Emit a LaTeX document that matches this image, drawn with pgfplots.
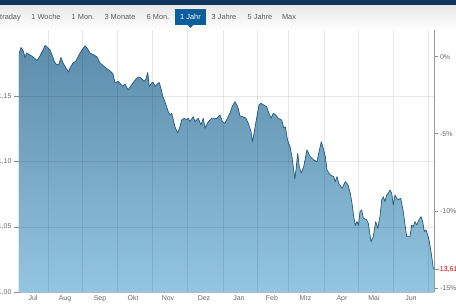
\documentclass[border=0pt]{standalone}
\usepackage{pgfplots}
\usepackage{pgfplotstable}
\pgfplotsset{compat=1.18}
\usepackage{fontspec}
\setmainfont{Liberation Sans}
\definecolor{navy}{HTML}{0E355E}
\definecolor{tabblue}{HTML}{0B5E9C}
\definecolor{tabtext}{HTML}{5A5A5A}
\definecolor{ticktext}{HTML}{6A6A6A}
\definecolor{lineblue}{HTML}{2A5C7C}
\definecolor{filltop}{HTML}{5C8DAC}
\definecolor{fillbot}{HTML}{93C6E0}
\pgfplotstableread{
x y
19 1.1825
21 1.1874
23.5 1.1844
25 1.1794
26.5 1.1832
30 1.1817
33 1.1802
37 1.1775
40 1.1809
43 1.1855
45 1.1890
47 1.1878
50 1.1855
52 1.1817
54.5 1.1763
57 1.1740
59 1.1748
61 1.1798
63 1.1756
66 1.1717
68.5 1.1687
70 1.1717
73 1.1756
76 1.1771
79 1.1817
82 1.1855
85 1.1886
87 1.1871
90 1.1832
94 1.1817
97 1.1802
100 1.1756
104 1.1729
107 1.1710
110 1.1695
113 1.1672
115 1.1603
118 1.1614
120.5 1.1595
122.5 1.1576
125 1.1595
128 1.1549
130.5 1.1576
133 1.1603
136.5 1.1637
139 1.1649
141.5 1.1637
144 1.1614
146 1.1633
147.7 1.1683
149.3 1.1576
151.7 1.1603
153.3 1.1606
155 1.1576
157.3 1.1595
159.3 1.1606
161 1.1557
163 1.1495
165 1.1457
166.7 1.1419
168.3 1.1381
170 1.1358
171.7 1.1369
173.3 1.1319
175 1.1266
177.5 1.1220
179.3 1.1250
181.7 1.1319
184 1.1331
186.7 1.1323
188.3 1.1332
190 1.1306
193.3 1.1345
195 1.1306
198.3 1.1332
201 1.1281
203.3 1.1332
205 1.1256
208.3 1.1306
211.7 1.1332
216.7 1.1331
220 1.1358
222.3 1.1306
225 1.1294
228.3 1.1345
230 1.1371
232.5 1.1427
235 1.1459
237.7 1.1421
240 1.1350
243.3 1.1342
245.7 1.1335
248.3 1.1294
251 1.1230
252.5 1.1153
254.3 1.1230
256.7 1.1335
259 1.1434
261 1.1447
264.3 1.1430
266.7 1.1421
268.3 1.1383
271 1.1332
273.3 1.1371
275.5 1.1358
278.5 1.1331
281.7 1.1319
283.7 1.1258
285.3 1.1266
287.5 1.1166
290 1.1115
292 1.1036
293.7 1.0936
294.8 1.0868
296 1.0936
297.7 1.1064
299.3 1.0959
301.3 1.0913
303.7 1.0962
307 1.1090
310.3 1.1038
313.7 1.1013
317 1.1000
318.7 1.1064
321.3 1.1153
323.7 1.1090
325.3 1.1038
327 1.0936
330.3 1.0898
333.7 1.0885
335.3 1.0847
337 1.0885
338.7 1.0835
342 1.0796
345.3 1.0847
348 1.0822
350.3 1.0758
352 1.0681
353.7 1.0579
355.3 1.0512
357 1.0541
358.5 1.0512
360 1.0617
361.7 1.0630
363.3 1.0567
366.7 1.0554
368.3 1.0528
371 1.0387
373.3 1.0426
375.7 1.0541
377.7 1.0490
380 1.0579
381.7 1.0707
383.3 1.0732
385 1.0694
386.7 1.0745
388.3 1.0758
390 1.0783
391.7 1.0758
393.3 1.0668
395 1.0745
396.7 1.0720
398.3 1.0707
400.7 1.0720
403.3 1.0617
405 1.0515
406.7 1.0426
410 1.0426
411.7 1.0515
413.3 1.0502
415 1.0541
416.7 1.0515
419 1.0554
421 1.0579
422.7 1.0541
424.3 1.0464
426 1.0477
427.7 1.0439
429 1.0400
431 1.0311
433.3 1.0184
434 1.0178
}\pricedata
\begin{document}
\begin{tikzpicture}[x=1pt,y=1pt]
\useasboundingbox (0,0) rectangle (456,304);
\clip (0,0) rectangle (456,304);
\fill[white] (0,0) rectangle (456,304);
\shade[top color=black!9, bottom color=white] (0,274) rectangle (456,299);
\fill[navy] (0,299) rectangle (456,304);
% tabs
\begin{scope}[font=\fontsize{7.4}{8}\selectfont, text=tabtext]
\node[anchor=east, inner sep=0] at (21,286.7) {Intraday};
\node[inner sep=0] at (46,286.7) {1 Woche};
\node[inner sep=0] at (83,286.7) {1 Mon.};
\node[inner sep=0] at (120,286.7) {3 Monate};
\node[inner sep=0] at (158,286.7) {6 Mon.};
\fill[tabblue] (175,279) rectangle (206,295);
\fill[tabblue] (187.5,279) -- (193.5,279) -- (190.5,276) -- cycle;
\node[inner sep=0, text=white] at (190.5,286.7) {1 Jahr};
\node[inner sep=0] at (224,286.7) {3 Jahre};
\node[inner sep=0] at (260,286.7) {5 Jahre};
\node[inner sep=0] at (289,286.7) {Max};
\end{scope}
\begin{axis}[
  at={(19pt,11.7pt)}, anchor=south west,
  width=415pt, height=262.3pt, scale only axis,
  xmin=19, xmax=434, ymin=1.00, ymax=1.2008,
  axis line style={draw=none},
  axis on top,
  xtick={33,65,100,133,168,204,239,272,305.5,342,374,411},
  xticklabels={Jul,Aug,Sep,Okt,Nov,Dez,Jan,Feb,Mrz,Apr,Mai,Jun},
  minor xtick={48,82,117,152,187,223,257,288,324,358,393,428},
  xminorgrids=true,
  minor grid style={draw=black, opacity=0.09, line width=0.6pt},
  x tick style={draw=none},
  ytick={1.00,1.05,1.10,1.15},
  yticklabels={{1,00},{1,05},{1,10},{1,15}},
  ymajorgrids=true,
  major grid style={draw=black, opacity=0.09, line width=0.6pt},
  ytick pos=left,
  tick align=outside,
  major tick length=5pt,
  y tick style={draw=black!45, line width=0.5pt},
  tick label style={font=\fontsize{7}{8}\selectfont, text=ticktext},
  xticklabel style={yshift=5.5pt},
  yticklabel style={xshift=1pt},
  /pgf/number format/assume math mode=true,
]
\addplot[draw=none, fill=filltop, top color=filltop, bottom color=fillbot] table[x=x,y=y] {\pricedata} \closedcycle;
\addplot[draw=lineblue, line width=0.7pt, line join=round] table[x=x,y=y] {\pricedata};
\end{axis}
\begin{axis}[
  at={(19pt,11.7pt)}, anchor=south west,
  width=415pt, height=262.3pt, scale only axis,
  xmin=0, xmax=1, ymin=-15.283, ymax=1.728,
  axis x line=none,
  axis y line*=right,
  axis line style={draw=black!40, line width=0.7pt},
  ytick={-15,-10,-5,0},
  yticklabels={-15\%,-10\%,-5\%,0\%},
  extra y ticks={-13.79},
  extra y tick labels={\textcolor{red!80!black}{\kern-2.5pt-13,61\%}},
  tick align=outside,
  major tick length=4pt,
  y tick style={draw=black!45, line width=0.5pt},
  tick label style={font=\fontsize{7}{8}\selectfont, text=ticktext},
  yticklabel style={xshift=-1.5pt},
  /pgf/number format/assume math mode=true,
]
\end{axis}
\end{tikzpicture}
\end{document}
